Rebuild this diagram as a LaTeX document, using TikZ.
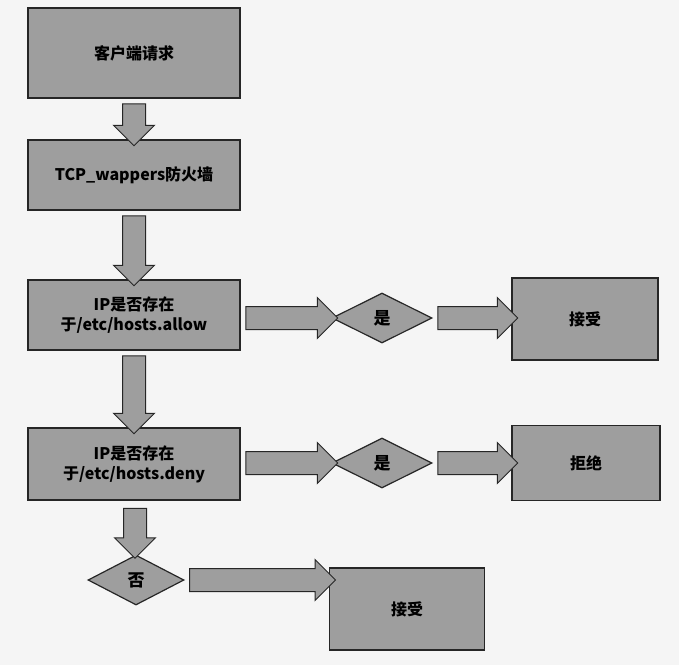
\documentclass[tikz,border=0pt]{standalone}
\usepackage{fontspec}
\setmainfont{Noto Sans CJK SC}
\usetikzlibrary{shapes.geometric,shapes.arrows}
\begin{document}
\begin{tikzpicture}[x=1pt,y=-1pt,
  box/.style={draw=black!85,line width=1.2pt,fill=black!38,inner sep=0pt,align=center,font=\bfseries\fontsize{16}{20}\selectfont},
  dia/.style={diamond,draw=black!85,line width=1.2pt,fill=black!38,inner sep=0pt,minimum width=100pt,minimum height=50pt,font=\bfseries\fontsize{17}{20}\selectfont},
  barrow/.style={single arrow,draw=black!85,line width=1pt,fill=black!38,inner xsep=0pt,inner ysep=11pt,minimum width=40pt,single arrow head extend=9pt,single arrow tip angle=90,single arrow head indent=0pt},
  varrow/.style={barrow,shape border rotate=270,inner xsep=11pt,inner ysep=0pt}]
\fill[black!4] (0,0) rectangle (679,665);
\useasboundingbox (0,0) rectangle (679,665);
\node[box,minimum width=212pt,minimum height=90pt] (b1) at (134,53) {客户端请求};
\node[box,minimum width=212pt,minimum height=70pt] (b2) at (134,175) {TCP\_wappers防火墙};
\node[box,minimum width=212pt,minimum height=70pt] (b3) at (134,315) {IP是否存在\\于/etc/hosts.allow};
\node[box,minimum width=212pt,minimum height=72pt] (b4) at (134,464) {IP是否存在\\于/etc/hosts.deny};
\node[dia] (d1) at (382,318) {是};
\node[dia] (d2) at (382,463) {是};
\node[dia,minimum width=96pt] (d3) at (136,580) {否};
\node[box,minimum width=146pt,minimum height=82pt] (r1) at (585,319) {接受};
\node[box,minimum width=148pt,minimum height=75pt] (r2) at (586,463) {拒绝};
\node[box,minimum width=155pt,minimum height=82pt] (r3) at (407,609) {接受};
\path (b1.south) -- (b2.north) node[midway,varrow,minimum height=42pt] (a1) {};
\path (b2.south) -- (b3.north) node[midway,varrow,minimum height=70pt] (a2) {};
\path (b3.south) -- (b4.north) node[midway,varrow,minimum height=78pt] (a3) {};
\path (b4.south) -- (d3.north) node[midway,varrow,minimum height=50pt] (a4) {};
\path (b3.east|-d1.west) -- (d1.west) node[midway,barrow,minimum height=92pt] (a5) {};
\path (d1.east) -- (r1.west|-d1.east) node[midway,barrow,minimum height=80pt] (a6) {};
\path (b4.east|-d2.west) -- (d2.west) node[midway,barrow,minimum height=92pt] (a7) {};
\path (d2.east) -- (r2.west|-d2.east) node[midway,barrow,minimum height=80pt] (a8) {};
\path (d3.east) -- (r3.west|-d3.east) node[midway,barrow,minimum height=146pt] (a9) {};
\end{tikzpicture}
\end{document}
